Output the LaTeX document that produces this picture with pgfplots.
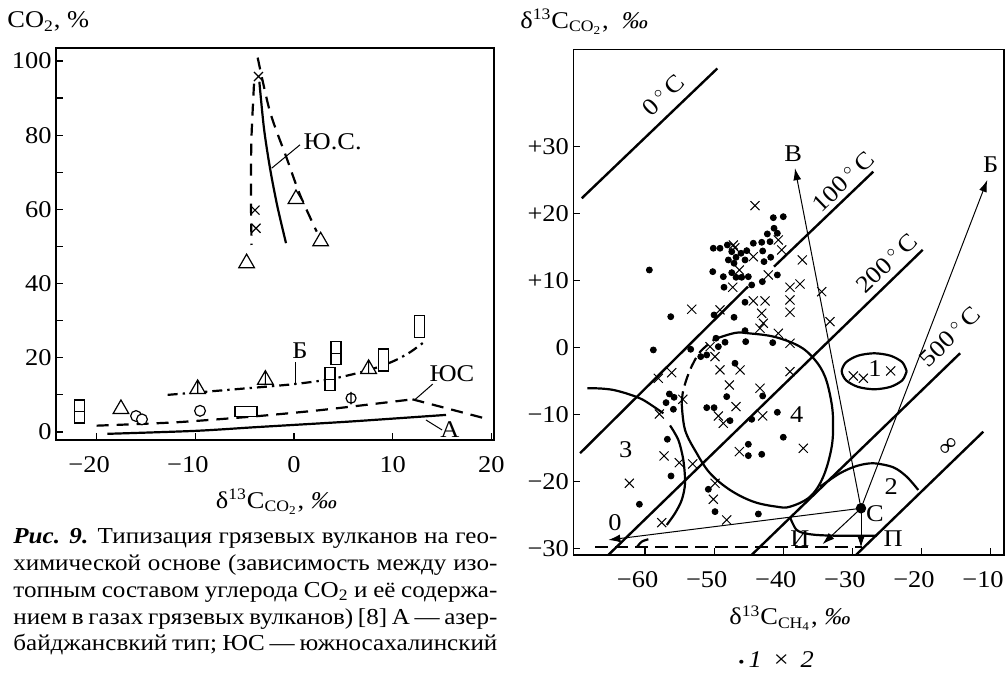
\documentclass[border=0pt]{standalone}
\usepackage{fontspec}
\setmainfont{Liberation Serif}[FakeStretch=1.1]
\usepackage{pgfplots}
\pgfplotsset{compat=1.18}
\usetikzlibrary{arrows.meta}

\pgfdeclareplotmark{vrectl}{%
 \pgfpathrectangle{\pgfqpoint{-2.5pt}{-5.75pt}}{\pgfqpoint{5pt}{11.5pt}}%
 \pgfpathmoveto{\pgfqpoint{-2.5pt}{0pt}}\pgfpathlineto{\pgfqpoint{2.5pt}{0pt}}%
 \pgfusepathqfillstroke}
\pgfdeclareplotmark{vrect}{%
 \pgfpathrectangle{\pgfqpoint{-2.5pt}{-5.5pt}}{\pgfqpoint{5pt}{11pt}}%
 \pgfusepathqfillstroke}
\pgfdeclareplotmark{hrect}{%
 \pgfpathrectangle{\pgfqpoint{-5.5pt}{-2.4pt}}{\pgfqpoint{11pt}{4.8pt}}%
 \pgfusepathqfillstroke}
\pgfdeclareplotmark{tribar}{%
 \pgfpathmoveto{\pgfqpoint{0pt}{\pgfplotmarksize}}%
 \pgfpathlineto{\pgfqpoint{-.866\pgfplotmarksize}{-.5\pgfplotmarksize}}%
 \pgfpathlineto{\pgfqpoint{.866\pgfplotmarksize}{-.5\pgfplotmarksize}}%
 \pgfpathclose
 \pgfpathmoveto{\pgfqpoint{0pt}{\pgfplotmarksize}}%
 \pgfpathlineto{\pgfqpoint{0pt}{-.5\pgfplotmarksize}}%
 \pgfusepathqfillstroke}
\pgfdeclareplotmark{phi}{%
 \pgfpathcircle{\pgfpointorigin}{\pgfplotmarksize}%
 \pgfpathmoveto{\pgfqpoint{0pt}{-1.25\pgfplotmarksize}}%
 \pgfpathlineto{\pgfqpoint{0pt}{1.25\pgfplotmarksize}}%
 \pgfusepathqfillstroke}

\pgfplotsset{
 mystyle/.style={scale only axis, axis line style={line width=0.6pt},
  tick align=inside, tick pos=left, major tick length=3.5pt,
  tick style={line width=0.6pt,black},
  tick label style={font=\fontsize{12}{13}\selectfont},
  xticklabel style={yshift=-4.5pt}, yticklabel style={xshift=1.3pt},
  clip mode=individual},
 thk/.style={line width=1.1pt, black},
 thn/.style={line width=0.5pt, black},
 dsh/.style={dash pattern=on 6pt off 4pt},
 wm/.style={only marks, mark options={solid, fill=white, draw=black, line width=0.6pt}},
}

\begin{document}
\begin{tikzpicture}[font=\fontsize{12}{13.35}\selectfont]
\useasboundingbox (0,0) rectangle (504pt,336.5pt);

% ---------------- LEFT PLOT ----------------
\begin{axis}[mystyle, at={(28pt,116.5pt)}, anchor=south west, width=219pt, height=196pt,
 xmin=-24.11, xmax=20.26, ymin=-2.16, ymax=103.5,
 xtick={-20,-10,0,10,20}, xticklabels={{\llap{−}20},{\llap{−}10},0,10,20},
 ytick={0,10,...,100}, yticklabels={0,,20,,40,,60,,80,,100}]
% Yu.S. lines
\addplot[thk, dsh, smooth] coordinates {(-4.05,93.9) (-4.3,80) (-4.36,70) (-4.35,60) (-4.3,50.4)};
\addplot[thk, dsh, smooth] coordinates {(-3.68,100.9) (-2.43,86.3) (-0.74,73.8) (0.61,63.9) (2.3,54.0)};
\addplot[thk, smooth] coordinates {(-3.51,94.4) (-3.04,81.8) (-2.43,71.1) (-1.7,61) (-0.81,50.9)};
\addplot[thn] coordinates {(-2.26,71.1) (0.61,77.4)};
% B curve (dash dot)
\addplot[thk, smooth, dash pattern=on 5pt off 2.5pt on 1.2pt off 2.5pt] coordinates {(-12.8,10.0) (-6,11.5) (0,12.9) (4,14.4) (7.6,16.7) (10,19.0) (11.7,21.4) (13.2,24.3)};
\addplot[thn] coordinates {(0.2,13.0) (0.2,18.8)};
% YuS dashed
\addplot[thk, dsh, smooth, tension=0.4] coordinates {(-20,1.7) (-12,2.6) (-4,4.2) (2,5.7) (6,6.9) (12,8.8)};
\addplot[thk, dsh] coordinates {(12,8.8) (19.3,3.7)};
\addplot[thn] coordinates {(12.2,8.6) (14.05,12.9)};
% A solid
\addplot[thk, smooth] coordinates {(-18.9,-0.5) (-10,0.3) (-3.85,1.3) (5,2.7) (10,3.6) (15.4,4.6)};
\addplot[thn] coordinates {(13.37,3.23) (15.0,0.54)};
% markers
\addplot[wm, mark=x, mark size=3.2pt] coordinates {(-3.6,95.8) (-3.95,59.8) (-3.85,54.9)};
\addplot[wm, mark=triangle*, mark size=4.5pt] coordinates {(-17.53,6.2) (0.2,62.8) (2.7,51.4) (-4.8,45.5)};
\addplot[wm, mark=tribar, mark size=4.5pt] coordinates {(-9.76,11.6) (-2.9,14.1) (7.56,17.0)};
\addplot[wm, mark=*, mark size=2.7pt] coordinates {(-16.0,4.3) (-15.4,3.4) (-9.52,5.7)};
\addplot[wm, mark=phi, mark size=2.5pt] coordinates {(5.78,9.1)};
\addplot[wm, mark=vrectl] coordinates {(-21.75,5.5) (3.65,14.2) (4.26,21.2)};
\addplot[wm, mark=vrect] coordinates {(9.05,19.4) (12.7,28.4)};
\addplot[wm, mark=hrect] coordinates {(-4.86,5.5)};
% labels
\node[anchor=west, inner sep=0] at (0.94,78.2) {Ю.С.};
\node at (0.61,21.9) {Б};
\node at (16.0,15.6) {ЮС};
\node at (15.8,0.75) {А};
\end{axis}

% ---------------- RIGHT PLOT ----------------
\begin{axis}[mystyle, at={(286.67pt,59pt)}, anchor=south west, width=215.3pt, height=252.85pt,
 xmin=-70.38, xmax=-8.05, ymin=-31.02, ymax=44.57,
 xtick={-60,-50,...,-10},
 xticklabels={{\llap{−}60},{\llap{−}50},{\llap{−}40},{\llap{−}30},{\llap{−}20},{\llap{−}10}},
 ytick={-30,-20,...,30}, yticklabels={−30,−20,−10,0,+10,+20,+30}]
% isotherms
\addplot[thk, line width=1.2pt] coordinates {(-69.16,22.3) (-49.54,41.7)};
\addplot[thk, line width=1.2pt] coordinates {(-69.4,-15.8) (-45.1,9.1)};
\addplot[thk, line width=1.2pt] coordinates {(-41.33,12.08) (-26.96,26.28)};
\addplot[thk, line width=1.2pt] coordinates {(-65.3,-31.0) (-19.8,14.6)};
\addplot[thk, line width=1.2pt] coordinates {(-44.56,-31.0) (-14.4,-0.87)};
\addplot[thk, line width=1.2pt] coordinates {(-29.45,-31.0) (-11.04,-12.59)};
% bottom dashed
\addplot[thk, line width=1.2pt, dash pattern=on 6.5pt off 3.5pt] coordinates {(-67.2,-29.87) (-28.6,-29.87)};
% region 4
\addplot[thk, smooth, tension=0.6] coordinates {(-49.87,1.27) (-46.98,2.17) (-45.05,2.12) (-41.19,1.57) (-37.57,0.12) (-35.40,-1.87) (-33.95,-4.36) (-33.08,-7.85) (-32.79,-10.84) (-32.98,-14.83) (-34.20,-19.31) (-36.11,-22.30) (-39.01,-23.80) (-40.94,-23.80) (-44.33,-23.05) (-47.70,-21.30) (-50.59,-18.80) (-52.52,-15.81) (-54.21,-12.33) (-54.69,-8.34)};
\addplot[thk, smooth, dash pattern=on 6pt off 3pt] coordinates {(-54.69,-8.34) (-54.46,-6.35) (-53.49,-3.36) (-52.04,-0.67) (-49.87,1.27)};
% region 3
\addplot[thk, smooth] coordinates {(-68.35,-6.10) (-66.51,-6.13) (-64.59,-6.35) (-62.46,-6.95) (-60.25,-7.85) (-57.35,-9.84)};
\addplot[thk, smooth] coordinates {(-56.38,-11.66) (-55.18,-13.83) (-54.46,-16.82) (-54.21,-20.30) (-54.69,-22.80) (-55.66,-24.78) (-56.86,-26.53)};
\addplot[thk, smooth] coordinates {(-61.2,-29.87) (-60.48,-29.03) (-59.52,-28.67)};
% region 1
\addplot[thk, smooth] coordinates {(-22.13,-3.56) (-22.76,-2.21) (-24.48,-1.23) (-26.83,-0.87) (-29.18,-1.23) (-30.90,-2.21) (-31.53,-3.56) (-30.90,-4.91) (-29.18,-5.89) (-26.83,-6.25) (-24.48,-5.89) (-22.76,-4.91) (-22.13,-3.56)};
% region 2
\addplot[thk, smooth] coordinates {(-34.67,-20.81) (-31.78,-18.80) (-29.36,-17.71) (-26.96,-17.31) (-24.07,-17.91) (-22.13,-19.31) (-20.45,-21.30)};
\addplot[thk, smooth] coordinates {(-39.02,-25.35) (-38.05,-27.28) (-36.12,-27.92) (-32.75,-28.13) (-26.47,-28.13)};
% arrows from C
\addplot[thn, -{Latex[length=6pt,width=4pt]}] coordinates {(-28.74,-24.04) (-38.3,26.8)};
\addplot[thn, -{Latex[length=6pt,width=4pt]}] coordinates {(-28.74,-24.04) (-10.46,25.04)};
\addplot[thn, -{Latex[length=6pt,width=4pt]}] coordinates {(-28.74,-24.04) (-65.31,-28.77)};
\addplot[thn, -{Latex[length=6pt,width=4pt]}] coordinates {(-28.74,-24.04) (-34.3,-29.4)};
\addplot[thn, -{Latex[length=6pt,width=4pt]}] coordinates {(-28.74,-24.04) (-28.74,-29.9)};
% dots (1)
\addplot[only marks, mark=*, mark size=1.5pt, black] coordinates {
(-59.38,11.58) (-56.28,4.60) (-58.80,-0.37) (-50.20,11.33) (-50.01,4.86)
(-49.15,14.83) (-50.12,14.83) (-48.09,15.32) (-47.45,14.32) (-47.94,13.08)
(-46.83,13.48) (-46.11,14.08) (-45.28,14.47) (-45.53,13.08) (-44.33,15.58)
(-43.11,15.72) (-42.97,14.42) (-41.91,15.81) (-42.30,16.97) (-41.33,17.82)
(-40.85,17.07) (-41.43,19.40) (-39.99,19.55) (-42.78,12.83) (-41.81,13.48)
(-48.67,10.58) (-47.45,11.18) (-46.83,10.49) (-46.01,10.49) (-45.05,10.58)
(-48.57,9.00) (-44.56,9.34) (-43.02,9.84) (-40.85,10.84) (-47.12,4.51)
(-45.53,6.76) (-45.53,2.51) (-45.43,0.87) (-48.42,0.78) (-49.73,1.38)
(-49.39,0.12) (-41.52,0.72) (-47.12,12.59) (-53.39,-0.27) (-51.94,-1.37)
(-51.07,-1.12) (-46.98,-2.36) (-56.48,-6.95) (-55.80,-7.45) (-56.96,-8.25)
(-55.90,-9.24) (-51.07,-9.00) (-50.01,-9.00) (-48.18,-7.35) (-47.70,-10.94)
(-44.56,-10.74) (-42.97,-7.25) (-40.85,-9.69) (-39.99,-13.42) (-45.05,-14.47)
(-45.05,-16.17) (-43.11,-15.97) (-56.77,-13.72) (-56.24,-19.21) (-60.82,-23.44)
(-50.84,-21.20) (-49.87,-24.54) (-43.60,-24.89)};
\addplot[only marks, mark=*, mark size=2.4pt, black] coordinates {(-28.74,-24.04)};
% crosses (2)
\addplot[only marks, mark=x, mark size=3.2pt, black, mark options={line width=0.5pt}] coordinates {
(-44.08,21.20) (-47.22,15.32) (-47.0,14.9) (-44.33,13.57) (-46.35,11.58)
(-47.31,9.00) (-40.71,16.07) (-40.22,14.57) (-42.16,10.84) (-37.24,13.08)
(-39.02,9.00) (-37.57,9.49) (-39.02,7.10) (-39.02,5.26) (-34.43,8.34)
(-33.23,3.86) (-44.33,6.95) (-42.63,6.95) (-43.11,5.11) (-42.88,3.62)
(-43.36,2.87) (-53.24,5.71) (-49.15,5.61) (-40.71,2.12) (-39.02,0.63)
(-50.59,0.12) (-49.87,-1.37) (-49.15,-3.36) (-46.25,-3.36) (-47.80,-5.61)
(-43.36,-6.10) (-39.02,-3.62) (-58.08,-4.61) (-56.14,-3.77) (-54.54,-7.75)
(-57.93,-9.94) (-46.83,-8.84) (-49.39,-10.24) (-48.67,-11.34) (-42.97,-10.24)
(-37.09,-15.07) (-46.35,-15.57) (-57.25,-16.22) (-55.04,-17.22) (-53.10,-17.41)
(-62.27,-20.30) (-49.87,-20.30) (-50.12,-22.69) (-48.18,-25.78) (-57.58,-26.19)
(-29.85,-4.26) (-28.40,-4.60) (-24.44,-3.51)};
% labels
\node[rotate=44, inner sep=0] at (-57.35,37.74) {0\,\textsuperscript{$\circ$}\,C};
\node[rotate=44, inner sep=0] at (-31.30,24.78) {100\,\textsuperscript{$\circ$}\,C};
\node[rotate=44, inner sep=0] at (-25.02,12.59) {200\,\textsuperscript{$\circ$}\,C};
\node[rotate=44, inner sep=0] at (-15.86,1.61) {500\,\textsuperscript{$\circ$}\,C};
\node[rotate=44, inner sep=0] at (-15.96,-14.83) {∞};
\node[inner sep=0] at (-38.05,-10.09) {4};
\node[inner sep=0] at (-62.78,-15.32) {3};
\node[inner sep=0] at (-24.36,-20.78) {2};
\node[inner sep=0] at (-26.71,-3.11) {1};
\node[inner sep=0] at (-64.34,-26.16) {0};
\node[inner sep=0] at (-38.54,29.03) {В};
\node[inner sep=0] at (-9.96,27.28) {Б};
\node[inner sep=0] at (-26.71,-24.78) {С};
\node[inner sep=0] at (-37.6,-28.6) {И};
\node[inner sep=0] at (-24.07,-28.55) {П};
\end{axis}

% axis titles
\node[anchor=base west, inner sep=0] at (3.5pt,322.5pt) {CO\textsubscript{2}, \%};
\node[anchor=base, inner sep=0] at (138.3pt,82.3pt) {δ\textsuperscript{13}C\textsubscript{CO\textsubscript{2}}, \textit{‰}};
\node[anchor=base west, inner sep=0] at (260pt,322.3pt) {δ\textsuperscript{13}C\textsubscript{CO\textsubscript{2}},\ \ \textit{‰}};
\node[anchor=base, inner sep=0] at (395pt,24pt) {δ\textsuperscript{13}C\textsubscript{CH\textsubscript{4}}, \textit{‰}};
\node[anchor=base west, inner sep=0] at (369pt,2.85pt) {{\footnotesize•}\,\textit{1}\enspace×\enspace\textit{2}};

% caption
\begin{scope}[font=\fontsize{11.4}{13.35}\selectfont]
\node[anchor=base west, inner sep=0] at (6.5pt,64.5pt) {\makebox[242pt][s]{\textbf{\textit{Рис. 9.}} Типизация грязевых вулканов на гео-}};
\node[anchor=base west, inner sep=0] at (6.5pt,51.15pt) {\makebox[242pt][s]{химической основе (зависимость между изо-}};
\node[anchor=base west, inner sep=0] at (6.5pt,37.8pt) {\makebox[242pt][s]{топным составом углерода CO\textsubscript{2} и её содержа-}};
\node[anchor=base west, inner sep=0] at (6.5pt,24.45pt) {\makebox[242pt][s]{нием в газах грязевых вулканов) [8] А — азер-}};
\node[anchor=base west, inner sep=0] at (6.5pt,11.1pt) {\makebox[242pt][s]{байджансвкий тип; ЮС — южносахалинский}};
\end{scope}
\end{tikzpicture}
\end{document}
